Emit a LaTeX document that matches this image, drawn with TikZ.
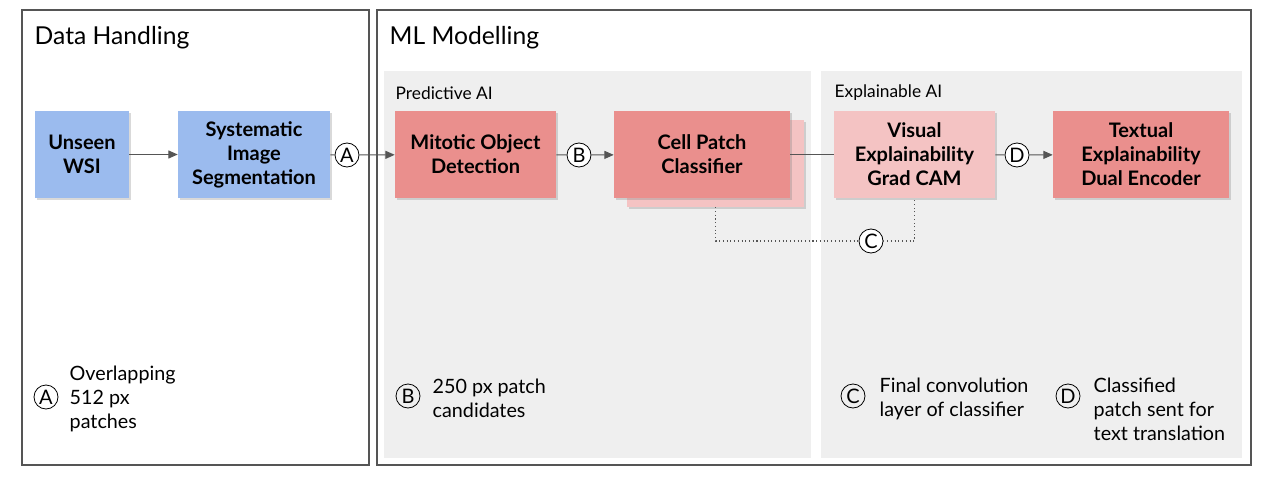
\documentclass[tikz,border=0pt]{standalone}
\usepackage{fontspec}
\setmainfont{Lato}
\usetikzlibrary{shadows,arrows.meta}

\definecolor{frameclr}{HTML}{555555}
\definecolor{panelclr}{HTML}{EFEFEF}
\definecolor{wsiblue}{HTML}{9BBBEE}
\definecolor{mlred}{HTML}{EA8F8D}
\definecolor{mlpink}{HTML}{F4C3C3}

\begin{document}
\begin{tikzpicture}[
    x=0.75pt, y=-0.75pt,
    frame/.style = {draw=frameclr, line width=0.8pt},
    panel/.style = {fill=panelclr, draw=none},
    heading/.style = {anchor=west, font=\fontsize{18.5}{22}\selectfont},
    sublabel/.style = {anchor=west, font=\fontsize{13}{15}\selectfont},
    block/.style = {
      minimum height=65.25pt, align=center, inner sep=2pt,
      font=\fontsize{15}{18}\selectfont\bfseries,
      drop shadow={shadow xshift=1.2pt, shadow yshift=-1.5pt, opacity=0.3}
    },
    blueblock/.style = {block, fill=wsiblue},
    redblock/.style = {block, fill=mlred},
    pinkblock/.style = {block, fill=mlpink},
    tag/.style = {circle, draw=black, line width=0.6pt, fill=white,
      minimum size=18pt, inner sep=0pt,
      font=\fontsize{15}{16}\selectfont},
    keytag/.style = {tag, fill=none},
    note/.style = {anchor=west, align=left,
      font=\fontsize{14.8}{18}\selectfont},
    link/.style = {draw=frameclr, line width=0.8pt},
    arrow/.style = {link, -{Triangle[length=7pt, width=6pt]}},
    dots/.style = {draw=frameclr, line width=0.8pt, dotted}
  ]
  \useasboundingbox (0,0) rectangle (1264,485);

  % frames and panels
  \draw [frame] (22,10) rectangle (369,465);
  \draw [frame] (377,10) rectangle (1251,465);
  \path [panel] (384,71) rectangle (811,458);
  \path [panel] (821,71) rectangle (1242,458);

  \node (dh) [heading] at (30,38) {Data Handling};
  \node (ml) [heading] at (385,38) {ML Modelling};
  \node (pai) [sublabel] at (391,93) {Predictive AI};
  \node (xai) [sublabel] at (830,93) {Explainable AI};

  % blocks
  \node (wsi) [blueblock, minimum width=70.5pt] at (82,154.5) {Unseen\\WSI};
  \node (seg) [blueblock, minimum width=114pt] at (254,154.5)
    {Systematic\\Image\\Segmentation};
  \node (mito) [redblock, minimum width=120.75pt] at (475.5,154.5)
    {Mitotic Object\\Detection};
  \node (cellbk) [pinkblock, minimum width=132.75pt] at (715.5,163.5) {};
  \node (cell) [redblock, minimum width=132pt] at (702,154.5)
    {Cell Patch\\Classifier};
  \node (vis) [pinkblock, minimum width=120.75pt] at (914.5,154.5)
    {Visual\\Explainability\\Grad CAM};
  \node (txt) [redblock, minimum width=132pt] at (1141,154.5)
    {Textual\\Explainability\\Dual Encoder};

  % tags on the flow
  \node (ta) [tag] at (347,155) {A};
  \node (tb) [tag] at (579,155) {B};
  \node (tc) [tag] at (871,241) {C};
  \node (td) [tag] at (1017,155) {D};

  \draw [arrow] (wsi) -- (seg);
  \draw [link] (seg) -- (ta);
  \draw [arrow] (ta) -- (mito);
  \draw [link] (mito) -- (tb);
  \draw [arrow] (tb) -- (cell);
  \draw [link] (cell) -- (vis);
  \draw [link] (vis) -- (td);
  \draw [arrow] (td) -- (txt);
  \draw [dots] (cellbk.south) |- (tc);
  \draw [dots] (tc) -| (vis.south);

  % key
  \node (ka) [keytag] at (46,397) {A};
  \node (na) [note] at (65,399) {Overlapping\\512 px\\patches};
  \node (kb) [keytag] at (408,396) {B};
  \node (nb) [note] at (428,398) {250 px patch\\candidates};
  \node (kc) [keytag] at (853,396) {C};
  \node (nc) [note] at (875,399) {Final convolution\\layer of classifier};
  \node (kd) [keytag] at (1068,396) {D};
  \node (nd) [note] at (1089,409) {Classified\\patch sent for\\text translation};
\end{tikzpicture}
\end{document}
